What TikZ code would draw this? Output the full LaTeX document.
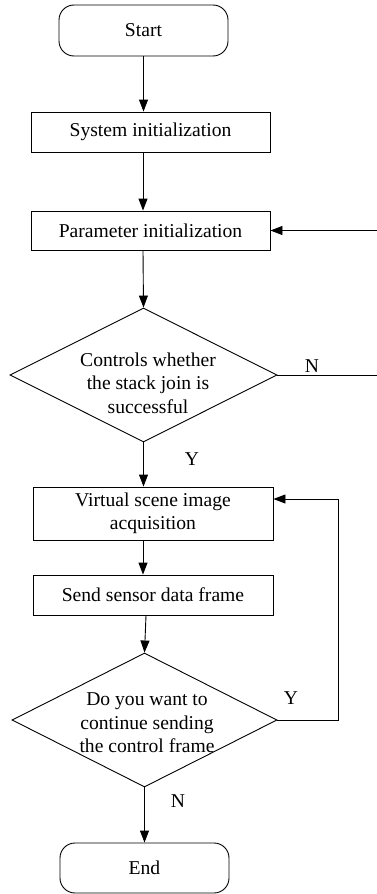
\documentclass[tikz,border=0pt]{standalone}
\usepackage{fontspec}
\setmainfont{Liberation Serif}
\usetikzlibrary{arrows.meta,shapes.geometric}
\begin{document}
\begin{tikzpicture}[x=1pt,y=-1pt,
  every node/.style={font=\fontsize{19.6}{23.5}\selectfont},
  line/.style={line width=0.9pt,draw=black},
  arr/.style={line, -{Triangle[length=12pt,width=9pt]}},
  term/.style={draw, line width=0.9pt, rounded corners=15pt, minimum width=169pt, minimum height=51pt, inner sep=0pt},
  proc/.style={draw, line width=0.9pt, minimum width=239pt, inner sep=0pt, align=center},
  dec/.style={draw, line width=0.9pt, shape=diamond, inner sep=0pt},
  txt/.style={align=center, inner sep=0pt}
]
\useasboundingbox (0,0) rectangle (377,894);
\node[term] (start) at (143.5,30.5) {Start};
\node[proc, minimum height=40pt] (sys) at (150.5,132) {System initialization};
\node[proc, minimum height=39pt] (par) at (150.5,230.5) {Parameter initialization};
\node[dec, minimum width=267pt, minimum height=134pt] (d1) at (143.5,375) {};
\node[txt] (d1t) at (148,383) {Controls whether\\the stack join is\\successful};
\node[proc, minimum width=240pt, minimum height=53pt] (vir) at (153,513.5) {Virtual scene image\\acquisition};
\node[proc, minimum width=240pt, minimum height=40pt] (snd) at (153,595) {Send sensor data frame};
\node[dec, minimum width=265pt, minimum height=134pt] (d2) at (144.5,720) {};
\node[txt] (d2t) at (147,723) {Do you want to\\continue sending\\the control frame};
\node[term, minimum height=50pt] (end) at (144.5,868) {End};

\coordinate (c1) at (143,0);
\coordinate (c2) at (146,0);
\draw[arr] (start.south) -- (start.south |- sys.north);
\draw[arr] (c1 |- sys.south) -- (c1 |- par.north);
\draw[arr] (c1 |- par.south) -- (d1.north);
\draw[arr] (d1.south) -- (d1.south |- vir.north);
\draw[arr] (c1 |- vir.south) -- (c1 |- snd.north);
\draw[arr] (c2 |- snd.south) -- (d2.north);
\draw[arr] (d2.south) -- (d2.south |- end.north);

\coordinate (edge) at (378.6,0);
\draw[arr] (d1.east) -- (edge |- d1.east) -- (edge |- par.east) -- (par.east);
\coordinate (loopx) at (338,0);
\draw[arr] (d2.east) -- (loopx |- d2.east) -- (loopx |- 499,499) -- (vir.east |- 0,499);

\node[inner sep=0pt, anchor=base] (ln1) at (312,372) {N};
\node[inner sep=0pt, anchor=base] (ly1) at (192,465) {Y};
\node[inner sep=0pt, anchor=base] (ly2) at (291,704) {Y};
\node[inner sep=0pt, anchor=base] (ln2) at (178,807) {N};
\end{tikzpicture}
\end{document}
